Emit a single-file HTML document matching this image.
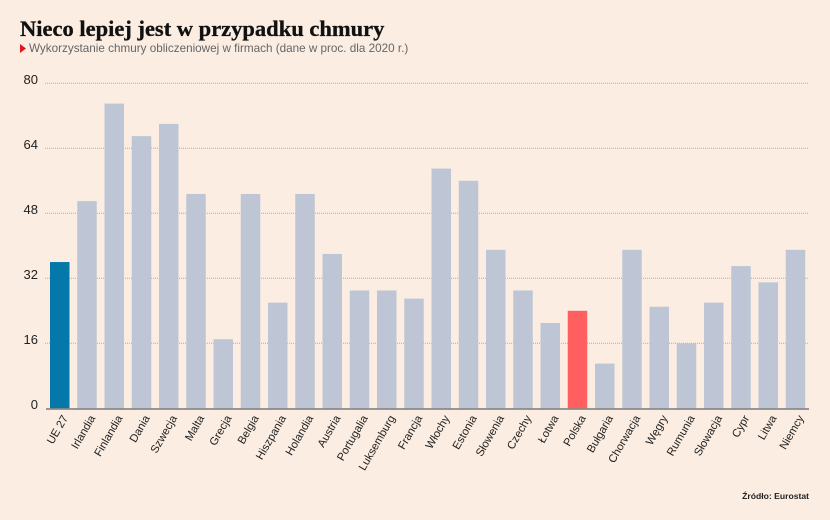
<!DOCTYPE html>
<html>
<head>
<meta charset="utf-8">
<style>
html,body{margin:0;padding:0;background:#FBEDE2;}
svg{display:block;}
</style>
</head>
<body>
<svg width="830" height="520" viewBox="0 0 830 520" xmlns="http://www.w3.org/2000/svg">
<rect x="0" y="0" width="830" height="520" fill="#FBEDE2"/>
<text x="20" y="36" font-family="Liberation Serif, serif" font-weight="bold" font-size="22.5" fill="#111" stroke="#111" stroke-width="0.3">Nieco lepiej jest w przypadku chmury</text>
<polygon points="20,44 26,48.5 20,53" fill="#E3161B"/>
<text x="29" y="52" font-family="Liberation Sans, sans-serif" font-size="11.7" fill="#666">Wykorzystanie chmury obliczeniowej w firmach (dane w proc. dla 2020 r.)</text>
<g stroke="#BBA999" stroke-width="1" stroke-dasharray="1,1">
<line x1="45" y1="83.3" x2="809" y2="83.3"/>
<line x1="45" y1="148.3" x2="809" y2="148.3"/>
<line x1="45" y1="213.3" x2="809" y2="213.3"/>
<line x1="45" y1="278.3" x2="809" y2="278.3"/>
<line x1="45" y1="343.3" x2="809" y2="343.3"/>
</g>
<g font-family="Liberation Sans, sans-serif" font-size="13" fill="#222" text-anchor="end">
<text x="38" y="84">80</text>
<text x="38" y="149">64</text>
<text x="38" y="214">48</text>
<text x="38" y="279">32</text>
<text x="38" y="344">16</text>
<text x="38" y="409">0</text>
</g>
<g>
<rect x="50.00" y="262.05" width="19.5" height="146.25" fill="#0478A8"/>
<rect x="77.25" y="201.11" width="19.5" height="207.19" fill="#BEC6D6"/>
<rect x="104.50" y="103.61" width="19.5" height="304.69" fill="#BEC6D6"/>
<rect x="131.75" y="136.11" width="19.5" height="272.19" fill="#BEC6D6"/>
<rect x="159.00" y="123.93" width="19.5" height="284.38" fill="#BEC6D6"/>
<rect x="186.25" y="193.99" width="19.5" height="214.31" fill="#BEC6D6"/>
<rect x="213.50" y="339.24" width="19.5" height="69.06" fill="#BEC6D6"/>
<rect x="240.75" y="193.99" width="19.5" height="214.31" fill="#BEC6D6"/>
<rect x="268.00" y="302.68" width="19.5" height="105.63" fill="#BEC6D6"/>
<rect x="295.25" y="193.99" width="19.5" height="214.31" fill="#BEC6D6"/>
<rect x="322.50" y="253.93" width="19.5" height="154.38" fill="#BEC6D6"/>
<rect x="349.75" y="290.49" width="19.5" height="117.81" fill="#BEC6D6"/>
<rect x="377.00" y="290.49" width="19.5" height="117.81" fill="#BEC6D6"/>
<rect x="404.25" y="298.61" width="19.5" height="109.69" fill="#BEC6D6"/>
<rect x="431.50" y="168.61" width="19.5" height="239.69" fill="#BEC6D6"/>
<rect x="458.75" y="180.80" width="19.5" height="227.50" fill="#BEC6D6"/>
<rect x="486.00" y="249.86" width="19.5" height="158.44" fill="#BEC6D6"/>
<rect x="513.25" y="290.49" width="19.5" height="117.81" fill="#BEC6D6"/>
<rect x="540.50" y="322.99" width="19.5" height="85.31" fill="#BEC6D6"/>
<rect x="567.75" y="310.80" width="19.5" height="97.50" fill="#FF5F5F"/>
<rect x="595.00" y="363.61" width="19.5" height="44.69" fill="#BEC6D6"/>
<rect x="622.25" y="249.86" width="19.5" height="158.44" fill="#BEC6D6"/>
<rect x="649.50" y="306.74" width="19.5" height="101.56" fill="#BEC6D6"/>
<rect x="676.75" y="343.30" width="19.5" height="65.00" fill="#BEC6D6"/>
<rect x="704.00" y="302.68" width="19.5" height="105.63" fill="#BEC6D6"/>
<rect x="731.25" y="266.11" width="19.5" height="142.19" fill="#BEC6D6"/>
<rect x="758.50" y="282.36" width="19.5" height="125.94" fill="#BEC6D6"/>
<rect x="785.75" y="249.86" width="19.5" height="158.44" fill="#BEC6D6"/>
</g>
<line x1="46" y1="409" x2="809" y2="409" stroke="#7A7A7A" stroke-width="1.6"/>
<g font-family="Liberation Sans, sans-serif" font-size="11.2" fill="#222" text-anchor="end">
<text transform="translate(65,416) rotate(-60)" dy="0.35em">UE 27</text>
<text transform="translate(92.25,416) rotate(-60)" dy="0.35em">Irlandia</text>
<text transform="translate(119.5,416) rotate(-60)" dy="0.35em">Finlandia</text>
<text transform="translate(146.75,416) rotate(-60)" dy="0.35em">Dania</text>
<text transform="translate(174,416) rotate(-60)" dy="0.35em">Szwecja</text>
<text transform="translate(201.25,416) rotate(-60)" dy="0.35em">Malta</text>
<text transform="translate(228.5,416) rotate(-60)" dy="0.35em">Grecja</text>
<text transform="translate(255.75,416) rotate(-60)" dy="0.35em">Belgia</text>
<text transform="translate(283,416) rotate(-60)" dy="0.35em">Hiszpania</text>
<text transform="translate(310.25,416) rotate(-60)" dy="0.35em">Holandia</text>
<text transform="translate(337.5,416) rotate(-60)" dy="0.35em">Austria</text>
<text transform="translate(364.75,416) rotate(-60)" dy="0.35em">Portugalia</text>
<text transform="translate(392,416) rotate(-60)" dy="0.35em">Luksemburg</text>
<text transform="translate(419.25,416) rotate(-60)" dy="0.35em">Francja</text>
<text transform="translate(446.5,416) rotate(-60)" dy="0.35em">Włochy</text>
<text transform="translate(473.75,416) rotate(-60)" dy="0.35em">Estonia</text>
<text transform="translate(501,416) rotate(-60)" dy="0.35em">Słowenia</text>
<text transform="translate(528.25,416) rotate(-60)" dy="0.35em">Czechy</text>
<text transform="translate(555.5,416) rotate(-60)" dy="0.35em">Łotwa</text>
<text transform="translate(582.75,416) rotate(-60)" dy="0.35em">Polska</text>
<text transform="translate(610,416) rotate(-60)" dy="0.35em">Bułgaria</text>
<text transform="translate(637.25,416) rotate(-60)" dy="0.35em">Chorwacja</text>
<text transform="translate(664.5,416) rotate(-60)" dy="0.35em">Węgry</text>
<text transform="translate(691.75,416) rotate(-60)" dy="0.35em">Rumunia</text>
<text transform="translate(719,416) rotate(-60)" dy="0.35em">Słowacja</text>
<text transform="translate(746.25,416) rotate(-60)" dy="0.35em">Cypr</text>
<text transform="translate(773.5,416) rotate(-60)" dy="0.35em">Litwa</text>
<text transform="translate(800.75,416) rotate(-60)" dy="0.35em">Niemcy</text>
</g>
<text x="809" y="499" font-family="Liberation Sans, sans-serif" font-size="8.6" font-weight="bold" fill="#222" text-anchor="end">Źródło: Eurostat</text>
</svg>
</body>
</html>
